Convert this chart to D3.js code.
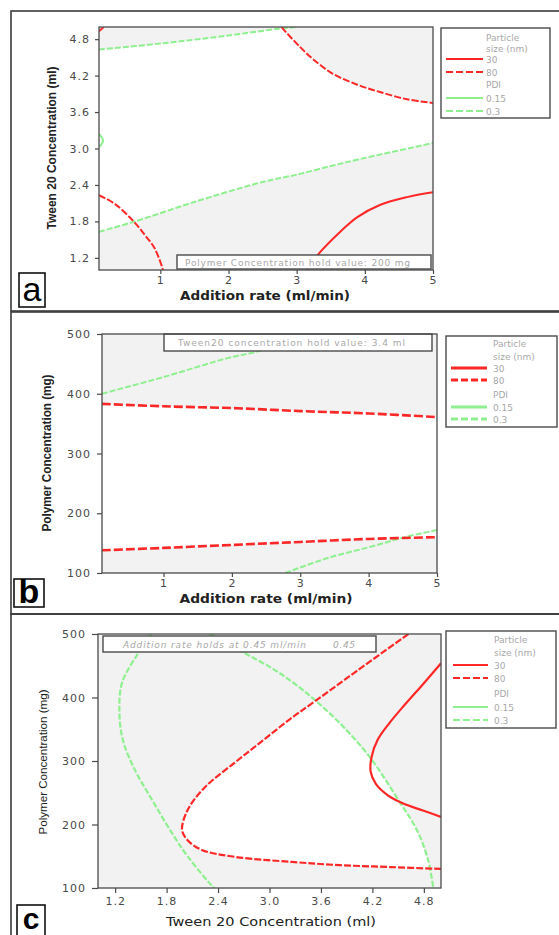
<!DOCTYPE html>
<html>
<head>
<meta charset="utf-8">
<script src="https://cdn.jsdelivr.net/npm/d3@7"></script>
<style>
  body { margin: 0; background: #fff; }
  svg { display: block; }
</style>
</head>
<body>
<svg id="chart" width="559" height="935"></svg>
<script>
// ---- data: panel a (addition rate vs tween 20, polymer = 200 mg) ----
const aXTicks = [1, 2, 3, 4, 5];
const aYTicks = [1.2, 1.8, 2.4, 3.0, 3.6, 4.2, 4.8];
const aSize80Corner = [[0.1, 4.93], [0.17, 5.0]];
const aSize80Upper = [[2.78, 5.0], [2.80, 4.97], [3.05, 4.67], [3.24, 4.47], [3.53, 4.23], [3.89, 4.05], [4.22, 3.93], [4.62, 3.81], [5.0, 3.75]];
const aSize80Lower = [[0.1, 2.23], [0.33, 2.09], [0.6, 1.81], [0.77, 1.58], [0.92, 1.35], [1.04, 1.0]];
const aSize30 = [[3.15, 1.0], [3.31, 1.25], [3.64, 1.63], [3.89, 1.87], [4.22, 2.07], [4.62, 2.20], [5.0, 2.28]];
const aPdi015 = [[0.1, 3.24], [0.16, 3.13], [0.1, 3.02]];
const aPdi03Upper = [[0.1, 4.63], [1.02, 4.73], [1.99, 4.86], [2.73, 4.97], [3.0, 5.0]];
const aPdi03Lower = [[0.1, 1.63], [0.6, 1.79], [1.5, 2.12], [2.5, 2.45], [3.0, 2.57], [3.75, 2.78], [5.0, 3.09]];
const aDesignSpace = [[0.1, 4.63], [1.02, 4.73], [1.99, 4.86], [2.75, 4.97], [2.80, 4.97], [3.05, 4.67], [3.24, 4.47],
  [3.53, 4.23], [3.89, 4.05], [4.22, 3.93], [4.62, 3.81], [5.0, 3.75], [5.0, 3.09], [3.75, 2.78], [3.0, 2.57],
  [2.5, 2.45], [1.5, 2.12], [0.6, 1.79], [0.1, 1.63]];

// ---- data: panel b (addition rate vs polymer, tween 20 = 3.4 ml) ----
const bXTicks = [1, 2, 3, 4, 5];
const bYTicks = [100, 200, 300, 400, 500];
const bSize80Upper = [[0.1, 383], [1, 379], [2, 376], [3, 371], [4, 367], [5, 361]];
const bSize80Lower = [[0.1, 138], [1, 142], [2, 147], [3, 152], [4, 157], [5, 160]];
const bPdi03Upper = [[0.1, 400], [1.0, 428], [1.95, 460], [2.35, 470], [2.8, 485], [3.2, 500]];
const bPdi03Lower = [[2.78, 100], [3.4, 125], [4.0, 143], [4.53, 160], [5.0, 172]];

// ---- data: panel c (tween 20 vs polymer, addition rate = 0.45 ml/min) ----
const cXTicks = [1.2, 1.8, 2.4, 3.0, 3.6, 4.2, 4.8];
const cYTicks = [100, 200, 300, 400, 500];
const cSize80 = [[4.62, 500], [4.02, 442], [3.53, 394], [3.24, 366], [2.91, 331], [2.60, 298], [2.25, 259], [2.05, 224],
  [1.98, 192], [2.04, 176], [2.21, 160], [2.60, 149], [3.27, 141], [3.82, 136], [4.41, 133], [5.0, 130]];
const cSize30 = [[5.0, 454], [4.79, 421], [4.58, 389], [4.40, 360], [4.26, 333], [4.19, 306], [4.18, 283], [4.24, 264],
  [4.38, 246], [4.56, 233], [4.79, 222], [5.0, 212]];
const cPdi03Left = [[1.62, 500], [1.47, 470], [1.28, 423], [1.25, 376], [1.29, 333], [1.43, 286], [1.63, 239], [1.86, 187],
  [2.05, 149], [2.34, 102], [2.36, 100]];
const cPdi03Right = [[2.3, 500], [2.68, 472], [3.03, 446], [3.27, 424], [3.53, 396], [3.86, 354], [4.17, 306], [4.52, 235],
  [4.72, 191], [4.85, 144], [4.91, 100]];
const cDesignSpace = [[3.53, 396], [3.24, 366], [2.91, 331], [2.60, 298], [2.25, 259], [2.05, 224], [1.98, 192], [2.04, 176],
  [2.21, 160], [2.60, 149], [3.27, 141], [3.82, 136], [4.41, 133], [4.87, 131], [4.85, 144], [4.72, 191], [4.52, 235],
  [4.17, 306], [3.86, 354]];

// legend
const sizeLevels = ["30", "80"];
const pdiLevels = ["0.15", "0.3"];

const RED = "#ff2828";
const GREEN = "#8ff08f";
const BG = "#f2f2f2";
const DARK = "#4a4a4a";
const SOFT = "#a8a8a8";

const svg = d3.select("#chart");

// panel frames (open on the right, cut off by the page)
svg.append("g").selectAll("rect")
  .data([[11, 300], [312, 302], [614, 340]])
  .join("rect")
    .attr("x", 11).attr("y", d => d[0])
    .attr("width", 560).attr("height", d => d[1])
    .attr("fill", "none").attr("stroke", "#3a3a3a").attr("stroke-width", 1.6);

function drawPanel(p) {
  const g = svg.append("g");
  const x = d3.scaleLinear().domain(p.xDomain).range([p.left, p.right]);
  const y = d3.scaleLinear().domain(p.yDomain).range([p.bottom, p.top]);

  g.append("clipPath").attr("id", "clip-" + p.id)
    .append("rect")
      .attr("x", p.left).attr("y", p.top)
      .attr("width", p.right - p.left).attr("height", p.bottom - p.top);

  g.append("rect")
    .attr("x", p.left).attr("y", p.top)
    .attr("width", p.right - p.left).attr("height", p.bottom - p.top)
    .attr("fill", BG);

  const plot = g.append("g").attr("clip-path", `url(#clip-${p.id})`);

  // white design space
  if (p.region) {
    plot.append("path")
      .attr("d", d3.line().x(d => x(d[0])).y(d => y(d[1]))(p.region) + "Z")
      .attr("fill", "#fff");
  }
  if (p.band) {
    const area = d3.area()
      .x(d => x(d[0]))
      .y0((d, i) => y(p.band[1][i][1]))
      .y1(d => y(d[1]))
      .curve(d3.curveMonotoneX);
    plot.append("path").attr("d", area(p.band[0])).attr("fill", "#fff");
  }

  const line = d3.line().x(d => x(d[0])).y(d => y(d[1])).curve(d3.curveCatmullRom.alpha(0.5));
  p.curves.forEach(c => {
    plot.append("path")
      .attr("d", line(c.data))
      .attr("fill", "none")
      .attr("stroke", c.color)
      .attr("stroke-width", c.width || 2)
      .attr("stroke-dasharray", c.dash || null);
  });

  // hold-value note
  const n = p.note;
  g.append("rect")
    .attr("x", n.x0).attr("y", n.y0)
    .attr("width", n.x1 - n.x0).attr("height", n.y1 - n.y0)
    .attr("fill", "#fff").attr("stroke", DARK).attr("stroke-width", 1.4);
  n.texts.forEach(t => {
    g.append("text")
      .attr("x", t.x).attr("y", n.base)
      .attr("font-family", "DejaVu Sans, Verdana, sans-serif")
      .attr("font-size", 9)
      .attr("font-style", n.italic ? "italic" : "normal")
      .attr("fill", SOFT)
      .attr("textLength", t.len).attr("lengthAdjust", "spacing")
      .text(t.text);
  });

  // plot border
  g.append("rect")
    .attr("x", p.left).attr("y", p.top)
    .attr("width", p.right - p.left).attr("height", p.bottom - p.top)
    .attr("fill", "none").attr("stroke", DARK).attr("stroke-width", 1.3);

  // axes
  const xAxis = g.append("g")
    .attr("transform", `translate(0,${p.bottom})`)
    .call(d3.axisBottom(x).tickValues(p.xTicks).tickFormat(d3.format(p.xFmt))
      .tickSize(p.xTickSize).tickPadding(p.xPad));
  const yAxis = g.append("g")
    .attr("transform", `translate(${p.left},0)`)
    .call(d3.axisLeft(y).tickValues(p.yTicks).tickFormat(d3.format(p.yFmt))
      .tickSize(p.yTickSize).tickPadding(p.yPad));
  [xAxis, yAxis].forEach(a => {
    a.select(".domain").remove();
    a.selectAll("line").attr("stroke", DARK).attr("stroke-width", 1.2);
    a.selectAll("text")
      .attr("font-family", "DejaVu Sans, Verdana, sans-serif")
      .attr("font-size", 11)
      .attr("letter-spacing", "1px")
      .attr("fill", DARK);
  });

  // axis titles
  const t = p.titles;
  g.append("text")
    .attr("x", t.xCx).attr("y", t.xBase)
    .attr("text-anchor", "middle")
    .attr("font-family", t.xFamily)
    .attr("font-weight", t.bold ? "bold" : "normal")
    .attr("font-size", t.xSize)
    .attr("fill", "#222")
    .attr("textLength", t.xLen).attr("lengthAdjust", "spacingAndGlyphs")
    .text(t.x);
  g.append("text")
    .attr("transform", `translate(${t.yBase},${t.yCy}) rotate(-90)`)
    .attr("text-anchor", "middle")
    .attr("font-family", "Liberation Sans, Arial, sans-serif")
    .attr("font-weight", t.bold ? "bold" : "normal")
    .attr("font-size", t.ySize)
    .attr("fill", "#222")
    .attr("textLength", t.yLen).attr("lengthAdjust", "spacingAndGlyphs")
    .text(t.y);

  // legend
  const L = p.legend;
  const lg = g.append("g").attr("transform", `translate(${L.x},${L.y})`);
  lg.append("rect")
    .attr("width", L.w).attr("height", L.h)
    .attr("fill", "#fff").attr("stroke", DARK).attr("stroke-width", 1.4);
  const txt = (ty, s) => lg.append("text")
    .attr("x", L.tx).attr("y", ty)
    .attr("font-family", "DejaVu Sans, Verdana, sans-serif")
    .attr("font-size", 9).attr("fill", SOFT).text(s);
  txt(L.rows[0], "Particle");
  txt(L.rows[1], "size (nm)");
  txt(L.rows[4], "PDI");
  const items = [
    { label: sizeLevels[0], color: RED, dash: null, row: L.rows[2] },
    { label: sizeLevels[1], color: RED, dash: "7,3", row: L.rows[3] },
    { label: pdiLevels[0], color: GREEN, dash: null, row: L.rows[5] },
    { label: pdiLevels[1], color: GREEN, dash: "7,3", row: L.rows[6] }
  ];
  items.forEach(it => {
    lg.append("line")
      .attr("x1", L.lx0).attr("x2", L.lx1)
      .attr("y1", it.row).attr("y2", it.row)
      .attr("stroke", it.color).attr("stroke-width", L.lw)
      .attr("stroke-dasharray", it.dash);
    txt(it.row + 3.5, it.label);
  });

  // panel letter
  const b = p.letter;
  g.append("rect")
    .attr("x", b.x0).attr("y", b.y0)
    .attr("width", b.x1 - b.x0).attr("height", b.y1 - b.y0)
    .attr("fill", "#fff").attr("stroke", "#111").attr("stroke-width", 1.6);
  g.append("text")
    .attr("x", (b.x0 + b.x1) / 2).attr("y", b.base)
    .attr("text-anchor", "middle")
    .attr("font-family", "Liberation Sans, Arial, sans-serif")
    .attr("font-weight", b.bold ? "bold" : "normal")
    .attr("font-size", b.size)
    .attr("fill", "#000")
    .text(b.text);
}

drawPanel({
  id: "a", left: 99, right: 433, top: 27, bottom: 270,
  xDomain: [0.1, 5], yDomain: [1.0, 5.0],
  xTicks: aXTicks, yTicks: aYTicks, xFmt: "d", yFmt: ".1f",
  xTickSize: 4, xPad: 2, yTickSize: 4, yPad: 5,
  region: aDesignSpace,
  curves: [
    { data: aPdi03Upper, color: GREEN, dash: "6,2" },
    { data: aPdi03Lower, color: GREEN, dash: "6,2" },
    { data: aPdi015, color: GREEN },
    { data: aSize80Corner, color: RED, dash: "6,2" },
    { data: aSize80Upper, color: RED, dash: "7,2" },
    { data: aSize80Lower, color: RED, dash: "7,2" },
    { data: aSize30, color: RED }
  ],
  note: { x0: 177, x1: 431, y0: 255, y1: 269, base: 266, italic: false,
    texts: [{ x: 185, len: 225, text: "Polymer Concentration hold value: 200 mg" }] },
  titles: { x: "Addition rate (ml/min)", xCx: 265, xBase: 300, xSize: 12, xLen: 170,
    xFamily: "DejaVu Sans, Verdana, sans-serif",
    y: "Tween 20 Concentration (ml)", yBase: 56, yCy: 148, ySize: 12, yLen: 163, bold: true },
  legend: { x: 441, y: 28, w: 109, h: 90, tx: 45, lx0: 5, lx1: 42, lw: 2,
    rows: [13, 24, 31, 44, 60, 70, 83] },
  letter: { x0: 19, x1: 45, y0: 273, y1: 307, base: 301, size: 34, bold: false, text: "a" }
});

drawPanel({
  id: "b", left: 102, right: 437, top: 334, bottom: 573,
  xDomain: [0.1, 5], yDomain: [100, 500],
  xTicks: bXTicks, yTicks: bYTicks, xFmt: "d", yFmt: "d",
  xTickSize: 4, xPad: 2, yTickSize: 5, yPad: 6,
  band: [bSize80Upper, bSize80Lower],
  curves: [
    { data: bPdi03Upper, color: GREEN, dash: "6,2" },
    { data: bPdi03Lower, color: GREEN, dash: "6,2" },
    { data: bSize80Upper, color: RED, dash: "9,3", width: 2.6 },
    { data: bSize80Lower, color: RED, dash: "9,3", width: 2.6 }
  ],
  note: { x0: 164, x1: 432, y0: 334, y1: 351, base: 346, italic: false,
    texts: [{ x: 178, len: 227, text: "Tween20 concentration hold value: 3.4 ml" }] },
  titles: { x: "Addition rate (ml/min)", xCx: 266, xBase: 603, xSize: 12, xLen: 173,
    xFamily: "DejaVu Sans, Verdana, sans-serif",
    y: "Polymer Concentration (mg)", yBase: 51, yCy: 453, ySize: 12, yLen: 157, bold: true },
  legend: { x: 446, y: 336, w: 111, h: 91, tx: 47, lx0: 5, lx1: 41, lw: 3.2,
    rows: [11, 24, 32, 44, 62, 71, 83] },
  letter: { x0: 14, x1: 44, y0: 579, y1: 607, base: 603, size: 34, bold: true, text: "b" }
});

drawPanel({
  id: "c", left: 98, right: 441, top: 634, bottom: 888,
  xDomain: [1.0, 5.0], yDomain: [100, 500],
  xTicks: cXTicks, yTicks: cYTicks, xFmt: ".1f", yFmt: "d",
  xTickSize: 5, xPad: 4, yTickSize: 6, yPad: 6,
  region: cDesignSpace,
  curves: [
    { data: cPdi03Left, color: GREEN, dash: "6,2", width: 2.2 },
    { data: cPdi03Right, color: GREEN, dash: "6,2", width: 2.2 },
    { data: cSize80, color: RED, dash: "7,2", width: 2.2 },
    { data: cSize30, color: RED, width: 2.2 }
  ],
  note: { x0: 103, x1: 376, y0: 636, y1: 652, base: 648, italic: true,
    texts: [{ x: 123, len: 183, text: "Addition rate holds at 0.45 ml/min" },
            { x: 333, len: 22, text: "0.45" }] },
  titles: { x: "Tween 20  Concentration (ml)", xCx: 271, xBase: 926, xSize: 12, xLen: 210,
    xFamily: "DejaVu Sans, Verdana, sans-serif",
    y: "Polymer Concentration (mg)", yBase: 47, yCy: 762, ySize: 11.5, yLen: 145, bold: false },
  legend: { x: 446, y: 631, w: 110, h: 97, tx: 48, lx0: 7, lx1: 42, lw: 2.2,
    rows: [12, 25, 34, 47, 66, 76, 89] },
  letter: { x0: 17, x1: 45, y0: 905, y1: 938, base: 929, size: 30, bold: true, text: "c" }
});
</script>
</body>
</html>
